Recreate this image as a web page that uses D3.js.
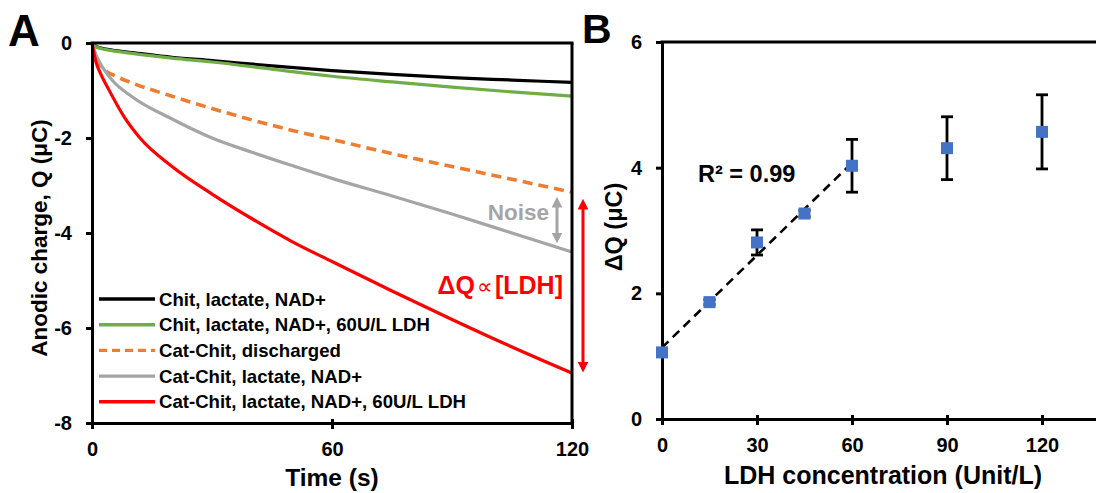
<!DOCTYPE html>
<html>
<head>
<meta charset="utf-8">
<script src="https://cdn.jsdelivr.net/npm/d3@7"></script>
<style>
  html, body { margin: 0; padding: 0; background: #fff; }
  svg { display: block; font-family: "Liberation Sans", Arial, sans-serif; font-weight: bold; }
</style>
</head>
<body>
<svg id="chart" width="1096" height="493"></svg>
<script>
// ---- Panel A: anodic charge transients (time in s, charge in µC) ----
const timeTicks = [0, 60, 120];
const chargeTicks = [0, -2, -4, -6, -8];

const tBlack  = [0, 1, 2, 5, 10, 20, 30, 45, 60, 75, 90, 105, 120];
const qBlack  = [0, -0.07, -0.1, -0.15, -0.2, -0.3, -0.37, -0.48, -0.58, -0.66, -0.73, -0.78, -0.83];

const tGreen  = [0, 1, 2, 5, 10, 20, 30, 45, 60, 75, 90, 105, 120];
const qGreen  = [0, -0.08, -0.11, -0.16, -0.22, -0.32, -0.4, -0.55, -0.7, -0.82, -0.93, -1.03, -1.12];

const tOrange = [0, 1, 3, 6, 10, 20, 30, 40, 50, 60, 75, 90, 105, 120];
const qOrange = [0, -0.3, -0.55, -0.7, -0.84, -1.12, -1.38, -1.62, -1.84, -2.03, -2.33, -2.6, -2.87, -3.14];

const tGray   = [0, 1, 2, 5, 10, 20, 30, 40, 50, 60, 75, 90, 105, 120];
const qGray   = [0, -0.25, -0.42, -0.78, -1.13, -1.6, -2.0, -2.3, -2.58, -2.85, -3.22, -3.6, -4.0, -4.4];

const tRed    = [0, 1, 2, 4, 8, 12, 20, 30, 40, 50, 60, 75, 90, 105, 120];
const qRed    = [0, -0.4, -0.62, -0.95, -1.55, -2.0, -2.6, -3.18, -3.7, -4.18, -4.6, -5.22, -5.82, -6.4, -6.95];

const seriesNames = [
  "Chit, lactate, NAD+",
  "Chit, lactate, NAD+, 60U/L LDH",
  "Cat-Chit, discharged",
  "Cat-Chit, lactate, NAD+",
  "Cat-Chit, lactate, NAD+, 60U/L LDH"
];

// ---- Panel B: charge difference vs LDH concentration ----
const ldhConc   = [0, 15, 30, 45, 60, 90, 120];
const deltaQ    = [1.06, 1.86, 2.81, 3.27, 4.03, 4.31, 4.57];
const deltaQErr = [0.06, 0.04, 0.2, 0.05, 0.42, 0.5, 0.59];
const concTicks = [0, 30, 60, 90, 120];
const dqTicks   = [0, 2, 4, 6];
const fitMaxConc = 60;   // linear range used for the regression line
const r2Label = "R² = 0.99";

const svg = d3.select("#chart");
const FONT = "Liberation Sans, Arial, sans-serif";
const fmt = d => String(d);   // plain hyphen-minus for negative ticks

function styleAxis(ax) {
  ax.attr("font-family", FONT);
  ax.select(".domain").attr("stroke-width", 3).attr("stroke", "#000");
  ax.selectAll(".tick line").attr("stroke-width", 3).attr("stroke", "#000");
  ax.selectAll(".tick text").attr("font-size", 20).attr("font-weight", "bold")
    .attr("font-family", FONT).attr("fill", "#000");
}

// ================= Panel A =================
const A = { left: 92, right: 572, top: 43, bottom: 423 };
const xA = d3.scaleLinear().domain([0, 120]).range([A.left, A.right]);
const yA = d3.scaleLinear().domain([-8, 0]).range([A.bottom, A.top]);

const styles = [
  { color: "#000000", dash: null,   width: 3.2 },
  { color: "#70AD47", dash: null,   width: 3.2 },
  { color: "#ED7D31", dash: "10,6", width: 3.6 },
  { color: "#A5A5A5", dash: null,   width: 3.2 },
  { color: "#FF0000", dash: null,   width: 3.2 }
];
const curveData = [
  [tBlack, qBlack], [tGreen, qGreen], [tOrange, qOrange], [tGray, qGray], [tRed, qRed]
];

const lineA = d3.line()
  .x(d => xA(d[0]))
  .y(d => yA(d[1]))
  .curve(d3.curveMonotoneX);

const gA = svg.append("g");

curveData.forEach((c, i) => {
  const pts = c[0].map((t, k) => [t, c[1][k]]);
  gA.append("path")
    .datum(pts)
    .attr("fill", "none")
    .attr("stroke", styles[i].color)
    .attr("stroke-width", styles[i].width)
    .attr("stroke-dasharray", styles[i].dash)
    .attr("d", lineA);
});

const axisLeftA = d3.axisLeft(yA).tickValues(chargeTicks).tickSize(6).tickPadding(14).tickFormat(fmt);
const axisBottomA = d3.axisBottom(xA).tickValues(timeTicks).tickSize(6).tickPadding(13).tickFormat(fmt);

const axL = gA.append("g").attr("transform", `translate(${A.left},0)`).call(axisLeftA);
const axB = gA.append("g").attr("transform", `translate(0,${A.bottom})`).call(axisBottomA);
styleAxis(axL);
styleAxis(axB);
axB.selectAll(".tick line").attr("y1", -4);

// frame: top line at Q = 0 and right edge
gA.append("line").attr("x1", A.left - 1.5).attr("x2", A.right + 1.5)
  .attr("y1", yA(0)).attr("y2", yA(0)).attr("stroke", "#000").attr("stroke-width", 3);
gA.append("line").attr("x1", A.right).attr("x2", A.right)
  .attr("y1", A.top).attr("y2", A.bottom).attr("stroke", "#000").attr("stroke-width", 3);

// axis titles
gA.append("text")
  .attr("transform", `translate(47,238) rotate(-90)`)
  .attr("text-anchor", "middle")
  .attr("font-size", 22.5)
  .text("Anodic charge, Q (μC)");
gA.append("text")
  .attr("x", xA(60)).attr("y", 486)
  .attr("text-anchor", "middle")
  .attr("font-size", 24.5)
  .text("Time (s)");

// panel letter
svg.append("text").attr("x", 8).attr("y", 46).attr("font-size", 44).text("A");

// legend
const legend = gA.append("g");
seriesNames.forEach((name, i) => {
  const y = 299 + i * 25.7;
  legend.append("line")
    .attr("x1", 99).attr("x2", 155).attr("y1", y).attr("y2", y)
    .attr("stroke", styles[i].color).attr("stroke-width", 3.4)
    .attr("stroke-dasharray", styles[i].dash ? "8,5" : null);
  legend.append("text")
    .attr("x", 159).attr("y", y + 6.5)
    .attr("font-size", 18.6)
    .text(name);
});

// annotations: noise and signal arrows
const defs = svg.append("defs");
function arrowHead(id, color) {
  defs.append("marker")
    .attr("id", id)
    .attr("viewBox", "0 0 10 10")
    .attr("refX", 5).attr("refY", 5)
    .attr("markerWidth", 3.6).attr("markerHeight", 3.6)
    .attr("orient", "auto-start-reverse")
    .append("path")
    .attr("d", "M0,0 L10,5 L0,10 Z")
    .attr("fill", color);
}
arrowHead("headGray", "#A5A5A5");
arrowHead("headRed", "#FF0000");

const qOrangeEnd = qOrange[qOrange.length - 1];
const qGrayEnd = qGray[qGray.length - 1];
const qRedEnd = qRed[qRed.length - 1];

gA.append("line")
  .attr("x1", 557).attr("x2", 557)
  .attr("y1", yA(qOrangeEnd) + 10).attr("y2", yA(qGrayEnd) - 14)
  .attr("stroke", "#A5A5A5").attr("stroke-width", 3)
  .attr("marker-start", "url(#headGray)").attr("marker-end", "url(#headGray)");
gA.append("text")
  .attr("x", 549).attr("y", 220)
  .attr("text-anchor", "end")
  .attr("font-size", 22.5)
  .attr("fill", "#A5A5A5")
  .text("Noise");

gA.append("line")
  .attr("x1", 583).attr("x2", 583)
  .attr("y1", yA(qOrangeEnd) + 12).attr("y2", yA(qRedEnd) - 6)
  .attr("stroke", "#FF0000").attr("stroke-width", 3)
  .attr("marker-start", "url(#headRed)").attr("marker-end", "url(#headRed)");
const sig = gA.append("text")
  .attr("x", 563).attr("y", 294)
  .attr("text-anchor", "end")
  .attr("font-size", 25)
  .attr("fill", "#FF0000");
sig.append("tspan").text("ΔQ");
sig.append("tspan").attr("font-weight", "normal").attr("font-size", 22).attr("dx", 2).text("∝");
sig.append("tspan").attr("dx", 2).text("[LDH]");

// ================= Panel B =================
const B = { left: 662, top: 42, bottom: 419 };
const xB = d3.scaleLinear().domain([0, 140]).range([B.left, B.left + 140 * (380 / 120)]);
const yB = d3.scaleLinear().domain([0, 6]).range([B.bottom, B.top]);

const gB = svg.append("g");

const axisLeftB = d3.axisLeft(yB).tickValues(dqTicks).tickSize(6).tickPadding(14).tickFormat(fmt);
const axisBottomB = d3.axisBottom(xB).tickValues(concTicks).tickSize(6).tickPadding(13).tickFormat(fmt);
const bL = gB.append("g").attr("transform", `translate(${B.left},0)`).call(axisLeftB);
const bB = gB.append("g").attr("transform", `translate(0,${B.bottom})`).call(axisBottomB);
styleAxis(bL);
styleAxis(bB);
bB.selectAll(".tick line").attr("y1", -4);
gB.append("line").attr("x1", B.left - 1.5).attr("x2", 1096)
  .attr("y1", yB(6)).attr("y2", yB(6)).attr("stroke", "#000").attr("stroke-width", 3);

// linear regression over the linear range
const fitPts = ldhConc.map((c, i) => [c, deltaQ[i]]).filter(p => p[0] <= fitMaxConc);
const mx = d3.mean(fitPts, p => p[0]);
const my = d3.mean(fitPts, p => p[1]);
const slope = d3.sum(fitPts, p => (p[0] - mx) * (p[1] - my)) / d3.sum(fitPts, p => (p[0] - mx) ** 2);
const intercept = my - slope * mx;
gB.append("line")
  .attr("x1", xB(0)).attr("y1", yB(intercept))
  .attr("x2", xB(fitMaxConc)).attr("y2", yB(intercept + slope * fitMaxConc))
  .attr("stroke", "#000").attr("stroke-width", 2.6)
  .attr("stroke-dasharray", "9,6");

// error bars
const capW = 6;
ldhConc.forEach((c, i) => {
  const x = xB(c);
  const y0 = yB(deltaQ[i] - deltaQErr[i]);
  const y1 = yB(deltaQ[i] + deltaQErr[i]);
  const g = gB.append("g").attr("stroke", "#000").attr("stroke-width", 2.8);
  g.append("line").attr("x1", x).attr("x2", x).attr("y1", y0).attr("y2", y1);
  g.append("line").attr("x1", x - capW).attr("x2", x + capW).attr("y1", y0).attr("y2", y0);
  g.append("line").attr("x1", x - capW).attr("x2", x + capW).attr("y1", y1).attr("y2", y1);
});

// markers
const mk = 12;
gB.selectAll("rect.pt")
  .data(ldhConc.map((c, i) => [c, deltaQ[i]]))
  .join("rect")
  .attr("class", "pt")
  .attr("x", d => xB(d[0]) - mk / 2)
  .attr("y", d => yB(d[1]) - mk / 2)
  .attr("width", mk).attr("height", mk)
  .attr("fill", "#4472C4");

gB.append("text")
  .attr("x", 698).attr("y", 182)
  .attr("font-size", 23.5)
  .text(r2Label);

gB.append("text")
  .attr("transform", `translate(622,227) rotate(-90)`)
  .attr("text-anchor", "middle")
  .attr("font-size", 23.5)
  .text("ΔQ (μC)");
gB.append("text")
  .attr("x", 883).attr("y", 484)
  .attr("text-anchor", "middle")
  .attr("font-size", 25)
  .text("LDH concentration (Unit/L)");

svg.append("text").attr("x", 582).attr("y", 43).attr("font-size", 41).text("B");
</script>
</body>
</html>
